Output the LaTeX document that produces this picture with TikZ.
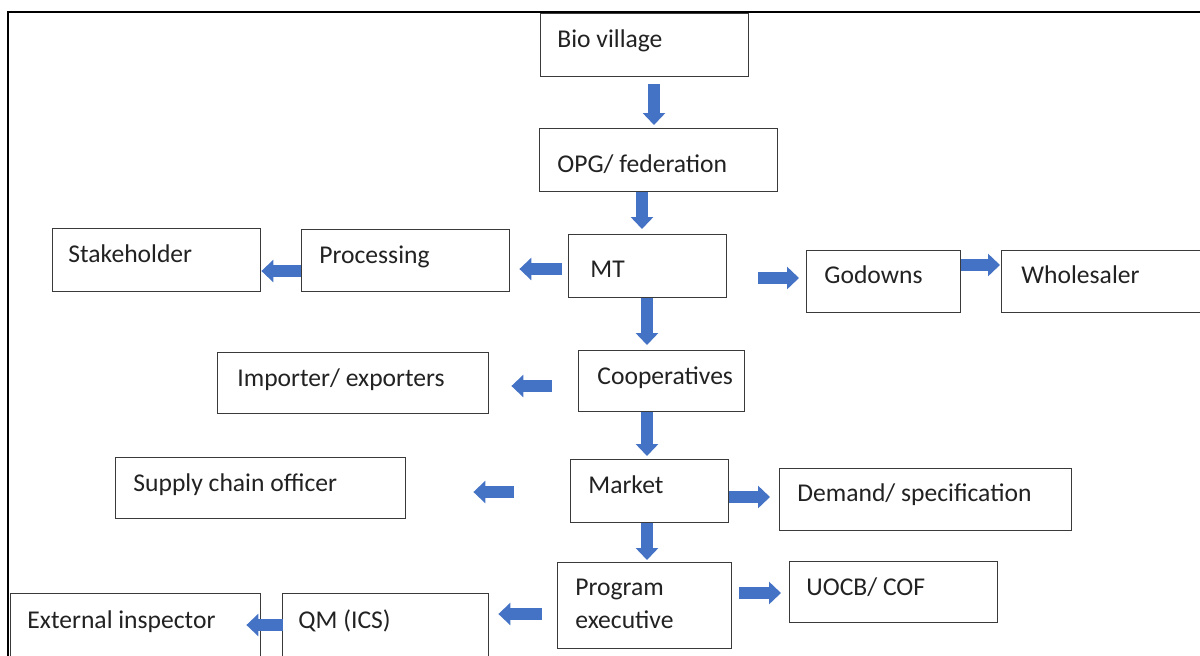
\documentclass[tikz,border=0pt]{standalone}
\usepackage{fontspec}
\setmainfont{Carlito}
\usetikzlibrary{arrows.meta,calc}
\definecolor{arrowblue}{HTML}{4472C4}
\definecolor{boxline}{HTML}{3A3A3A}
\definecolor{txt}{HTML}{222222}
\tikzset{
  box/.style={draw=boxline, line width=0.7pt, anchor=north west, inner sep=0pt, fill=white},
  lbl/.style={anchor=base west, inner sep=0pt, text=txt, font=\fontsize{12.8}{16.5}\selectfont, align=left},
  barrow/.style={draw=arrowblue, line width=6pt, -{Triangle[width=11pt,length=6pt]}},
}
\newcommand\bx[8]{%
  \node[box, minimum width=#4*0.5pt, minimum height=#5*0.5pt] (#1) at (#2,#3) {};
  \node[lbl] (#1t) at ($(#1.north west)+(#6,#7)$) {#8};}
\begin{document}
\begin{tikzpicture}[x=0.5pt,y=-0.5pt]
\useasboundingbox (0,0) rectangle (1200,655);
\clip (0,0) rectangle (1200,655);
% outer frame (top and left edges visible)
\draw[line width=1.2pt, black] (1210,12) -- (8,12) -- (8,670);
% boxes: name, x, y, width, height, text dx, baseline dy, text
\bx{bio}{540}{13}{208}{63}{17}{34}{Bio village}
\bx{opg}{539}{128}{238}{63}{18}{44}{OPG/ federation}
\bx{mt}{568}{234}{158}{63}{22}{43}{MT}
\bx{proc}{301}{229}{208}{62}{18}{34}{Processing}
\bx{stake}{52}{228}{208}{63}{16}{34}{Stakeholder}
\bx{god}{806}{250}{154}{62}{18}{33}{Godowns}
\bx{whole}{1001}{250}{220}{62}{20}{33}{Wholesaler}
\bx{imp}{217}{352}{271}{61}{20}{34}{Importer/ exporters}
\bx{coop}{578}{350}{166}{61}{19}{34}{Cooperatives}
\bx{sco}{115}{457}{290}{61}{18}{34}{Supply chain officer}
\bx{market}{570}{459}{158}{63}{18}{34}{Market}
\bx{demand}{779}{468}{292}{62}{18}{33}{Demand/ specification}
\bx{prog}{557}{562}{174}{86}{18}{66}{Program\\executive}
\bx{uocb}{789}{561}{208}{61}{17}{34}{UOCB/ COF}
\bx{qm}{282}{593}{206}{80}{16}{35}{QM (ICS)}
\bx{ext}{10}{593}{250}{80}{17}{35}{External inspector}
% vertical arrows
\draw[barrow, shorten <=3.5pt, shorten >=1.5pt] (654,0 |- bio.south) -- (654,0 |- opg.north);
\draw[barrow, shorten <=0pt, shorten >=2.5pt] (642,0 |- opg.south) -- (642,0 |- mt.north);
\draw[barrow, shorten <=0pt, shorten >=2.5pt] (647,0 |- mt.south) -- (647,0 |- coop.north);
\draw[barrow, shorten <=0pt, shorten >=1.5pt] (647,0 |- coop.south) -- (647,0 |- market.north);
\draw[barrow, shorten <=0pt, shorten >=1pt] (647,0 |- market.south) -- (647,0 |- prog.north);
% horizontal arrows
\draw[barrow, shorten <=3pt, shorten >=4.5pt] (mt.west |- 0,269) -- (proc.east |- 0,269);
\draw[barrow] (proc.west |- 0,271) -- (stake.east |- 0,271);
\draw[barrow, shorten <=15.5pt, shorten >=3.5pt] (mt.east |- 0,278) -- (god.west |- 0,278);
\draw[barrow, shorten >=0.5pt] (god.east |- 0,265) -- (whole.west |- 0,265);
\draw[barrow, shorten <=13pt, shorten >=11pt] (coop.west |- 0,386) -- (imp.east |- 0,386);
\draw[barrow, shorten <=28pt, shorten >=33.5pt] (market.west |- 0,492) -- (sco.east |- 0,492);
\draw[barrow, shorten >=4.5pt] (market.east |- 0,497) -- (demand.west |- 0,497);
\draw[barrow, shorten <=3.5pt, shorten >=4pt] (prog.east |- 0,593) -- (uocb.west |- 0,593);
\draw[barrow, shorten <=7.5pt, shorten >=4.5pt] (prog.west |- 0,614) -- (qm.east |- 0,614);
\draw[barrow, shorten <=-0.5pt, shorten >=-7.5pt] (qm.west |- 0,625) -- (ext.east |- 0,625);
\end{tikzpicture}
\end{document}
